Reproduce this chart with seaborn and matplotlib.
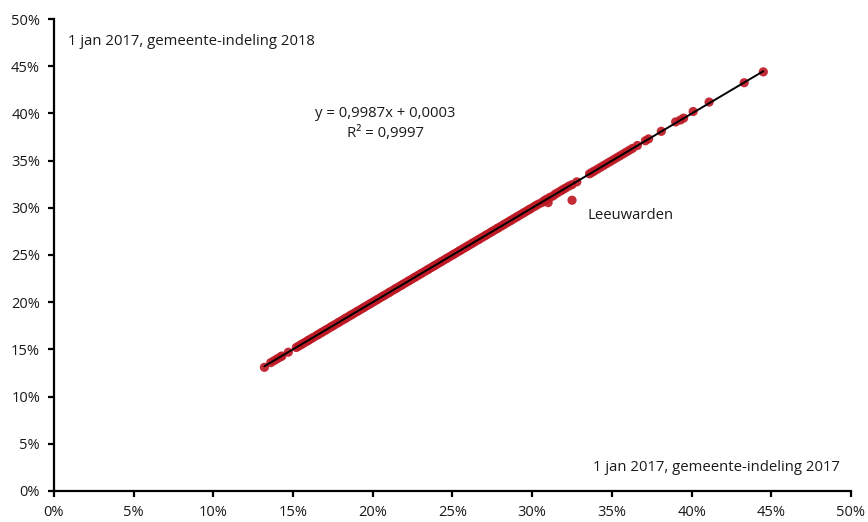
import matplotlib
matplotlib.use("Agg")
import matplotlib.pyplot as plt
from matplotlib.ticker import PercentFormatter
import numpy as np
import pandas as pd
import seaborn as sns

# Share per municipality (in %), 1 Jan 2017: old vs. new municipal boundaries
share_2017 = [
    13.2, 13.6, 13.8, 14.0, 14.2, 14.3, 14.7,
    15.2, 15.35, 15.5, 15.6, 15.75, 15.9, 16.0, 16.15, 16.3,
    16.5, 16.6, 16.75, 16.85, 17.0, 17.1, 17.25, 17.4, 17.5, 17.65, 17.8, 17.9,
    18.05, 18.2, 18.3, 18.45, 18.6, 18.7, 18.85, 19.0, 19.1, 19.25, 19.4, 19.5,
    19.65, 19.8, 19.9, 20.05, 20.2, 20.3, 20.45, 20.6, 20.7, 20.85, 21.0, 21.1,
    21.25, 21.4, 21.5, 21.65, 21.8, 21.9, 22.05, 22.2, 22.3, 22.45, 22.6, 22.7,
    22.85, 23.0, 23.1, 23.25, 23.4, 23.5, 23.65, 23.8, 23.9, 24.05, 24.2, 24.3,
    24.45, 24.6, 24.7, 24.85, 25.0, 25.1, 25.25, 25.4, 25.5, 25.65, 25.8, 25.9,
    26.05, 26.2, 26.3, 26.45, 26.6, 26.7, 26.85, 27.0, 27.1, 27.25, 27.4, 27.5,
    27.65, 27.8, 27.9, 28.05, 28.2, 28.3, 28.45, 28.6, 28.7, 28.85, 29.0, 29.1,
    29.25, 29.4, 29.5, 29.65, 29.8, 29.9, 30.1, 30.25, 30.4, 30.6, 30.75, 30.9,
    31.1, 31.3, 31.45, 31.6, 31.8, 31.95, 32.1, 32.3, 32.5, 32.8,
    33.6, 33.75, 33.9, 34.1, 34.3, 34.5, 34.7, 34.9, 35.1, 35.3, 35.5, 35.7,
    35.9, 36.1, 36.3, 36.6, 37.1, 37.3, 38.1, 39.0, 39.3, 39.5, 40.1, 41.1,
    43.3, 44.5,
    31.0, 32.5,
]
share_2018 = [
    13.1, 13.6, 13.8, 14.0, 14.2, 14.3, 14.7,
    15.2, 15.35, 15.5, 15.6, 15.75, 15.9, 16.0, 16.15, 16.3,
    16.5, 16.6, 16.75, 16.85, 17.0, 17.1, 17.25, 17.4, 17.5, 17.65, 17.8, 17.9,
    18.05, 18.2, 18.3, 18.45, 18.6, 18.7, 18.85, 19.0, 19.1, 19.25, 19.4, 19.5,
    19.65, 19.8, 19.9, 20.05, 20.2, 20.3, 20.45, 20.6, 20.7, 20.85, 21.0, 21.1,
    21.25, 21.4, 21.5, 21.65, 21.8, 21.9, 22.05, 22.2, 22.3, 22.45, 22.6, 22.7,
    22.85, 23.0, 23.1, 23.25, 23.4, 23.5, 23.65, 23.8, 23.9, 24.05, 24.2, 24.3,
    24.45, 24.6, 24.7, 24.85, 25.0, 25.1, 25.25, 25.4, 25.5, 25.65, 25.8, 25.9,
    26.05, 26.2, 26.3, 26.45, 26.6, 26.7, 26.85, 27.0, 27.1, 27.25, 27.4, 27.5,
    27.65, 27.8, 27.9, 28.05, 28.2, 28.3, 28.45, 28.6, 28.7, 28.85, 29.0, 29.1,
    29.25, 29.4, 29.5, 29.65, 29.8, 29.9, 30.1, 30.25, 30.4, 30.55, 30.75, 30.9,
    31.1, 31.25, 31.45, 31.6, 31.8, 31.95, 32.1, 32.3, 32.45, 32.75,
    33.6, 33.75, 33.9, 34.1, 34.3, 34.5, 34.7, 34.9, 35.1, 35.3, 35.5, 35.7,
    35.9, 36.1, 36.3, 36.6, 37.1, 37.3, 38.1, 39.1, 39.3, 39.5, 40.2, 41.2,
    43.25, 44.4,
    30.55, 30.8,
]
outlier_label = "Leeuwarden"
outlier_point = (32.5, 30.8)

# Linear trendline coefficients (fractions)
slope = 0.9987
intercept = 0.0003
r_squared = 0.9997

tick_values = [0, 5, 10, 15, 20, 25, 30, 35, 40, 45, 50]
x_title = "1 jan 2017, gemeente-indeling 2017"
y_title = "1 jan 2017, gemeente-indeling 2018"

sns.set_style("white")
plt.rcParams["font.family"] = ["Open Sans", "DejaVu Sans"]

df = pd.DataFrame({"x": np.array(share_2017) / 100, "y": np.array(share_2018) / 100})

fig = plt.figure(figsize=(8.68, 5.22), dpi=100)
ax = fig.add_axes([0.0622, 0.0594, 0.9182, 0.9042])

sns.scatterplot(data=df, x="x", y="y", ax=ax, color="#BE1A26", s=44,
                edgecolor="none", alpha=0.92, zorder=2)

x_line = np.array([df["x"].min(), df["x"].max()])
trend = pd.DataFrame({"x": x_line, "y": slope * x_line + intercept})
sns.lineplot(data=trend, x="x", y="y", ax=ax, color="black", linewidth=1.4, zorder=3)

ax.set_xlim(0, 0.5)
ax.set_ylim(0, 0.5)
ax.set_xticks([v / 100 for v in tick_values])
ax.set_yticks([v / 100 for v in tick_values])
ax.xaxis.set_major_formatter(PercentFormatter(1.0, decimals=0))
ax.yaxis.set_major_formatter(PercentFormatter(1.0, decimals=0))
ax.set_xlabel("")
ax.set_ylabel("")

for side in ("top", "right"):
    ax.spines[side].set_visible(False)
for side in ("left", "bottom"):
    ax.spines[side].set_color("black")
    ax.spines[side].set_linewidth(1.6)
ax.tick_params(axis="both", which="major", bottom=True, left=True, direction="out",
               length=4, width=1.6, color="black", labelsize=10.5,
               labelcolor="#1a1a1a", pad=6)

txt = dict(fontsize=10.7, color="#1a1a1a")
ax.text(0.009, 0.476, y_title, ha="left", va="center", **txt)
ax.text(0.338, 0.025, x_title, ha="left", va="center", **txt)
ax.text(0.208, 0.400, "y = " + f"{slope:.4f}".replace(".", ",") + "x + "
        + f"{intercept:.4f}".replace(".", ","), ha="center", va="center", **txt)
ax.text(0.208, 0.379, "R² = " + f"{r_squared:.4f}".replace(".", ","),
        ha="center", va="center", **txt)
ax.text(outlier_point[0] / 100 + 0.010, outlier_point[1] / 100 - 0.016, outlier_label,
        ha="left", va="center", **txt)

fig.savefig("out.png", dpi=100)
